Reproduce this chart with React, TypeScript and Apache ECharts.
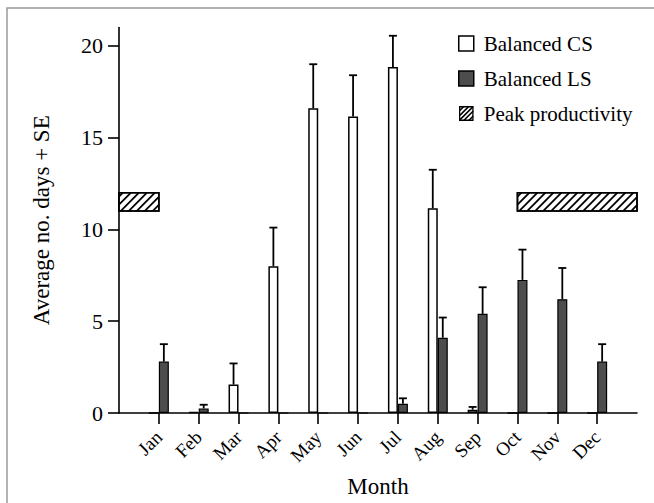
import React, { useEffect, useRef } from 'react';
import * as echarts from 'echarts';

const months = ['Jan', 'Feb', 'Mar', 'Apr', 'May', 'Jun', 'Jul', 'Aug', 'Sep', 'Oct', 'Nov', 'Dec'];
const monthPos = [1, 2, 3, 4, 5, 6, 7, 8, 9, 10, 11, 12];
const csMean = [0, 0.05, 1.55, 8.0, 16.6, 16.15, 18.85, 11.15, 0.18, 0, 0, 0];
const csUpper = [null, null, 2.7, 10.1, 19.0, 18.4, 20.55, 13.25, 0.33, null, null, null];
const lsMean = [2.8, 0.25, 0, 0, 0, 0, 0.5, 4.1, 5.4, 7.25, 6.2, 2.8];
const lsUpper = [3.75, 0.45, null, null, null, null, 0.8, 5.2, 6.85, 8.9, 7.9, 3.75];
const peakStart = [0, 10];
const peakEnd = [1, 13];
const peakLow = [11, 11];
const peakHigh = [12, 12];
const yTicks = [0, 5, 10, 15, 20];

const FONT = 'Liberation Serif, Times New Roman, Times, serif';

const hatchIconSvg =
  "<svg xmlns='http://www.w3.org/2000/svg' width='15' height='15' viewBox='0 0 15 15'>" +
  "<rect x='0.75' y='0.75' width='13.5' height='13.5' fill='white' stroke='black' stroke-width='1.5'/>" +
  "<path d='M0.5 5L5 0.5M0.5 10L10 0.5M0.5 14.5L14.5 0.5M5 14.5L14.5 5M10 14.5L14.5 10' stroke='black' stroke-width='1.6'/>" +
  '</svg>';
const hatchIcon = 'image://data:image/svg+xml;charset=utf-8,' + encodeURIComponent(hatchIconSvg);

function hatch(x0: number, y0: number, x1: number, y1: number, step: number, lw: number) {
  const out: any[] = [];
  for (let c = x0 + y0 + step / 2; c < x1 + y1; c += step) {
    const sx = Math.max(x0, c - y1);
    const ex = Math.min(x1, c - y0);
    if (ex > sx) {
      out.push({
        type: 'line',
        shape: { x1: sx, y1: c - sx, x2: ex, y2: c - ex },
        style: { stroke: '#000', lineWidth: lw },
      });
    }
  }
  return out;
}

function errRender(off: number) {
  return (params: any, api: any) => {
    const x = api.value(0);
    const m = api.value(1);
    const u = api.value(2);
    const p0 = api.coord([x, m]);
    const p1 = api.coord([x, u]);
    const cx = p0[0] + off;
    const st = { stroke: '#000', lineWidth: 1.8 };
    return {
      type: 'group',
      children: [
        { type: 'line', shape: { x1: cx, y1: p0[1], x2: cx, y2: p1[1] }, style: st },
        { type: 'line', shape: { x1: cx - 4, y1: p1[1], x2: cx + 4, y2: p1[1] }, style: st },
      ],
    };
  };
}

export default function App() {
  const ref = useRef<HTMLDivElement>(null);
  useEffect(() => {
    document.body.style.margin = '0';
    if (!ref.current) return;
    const chart = echarts.init(ref.current, null, { renderer: 'svg' });

    const csErr = monthPos
      .map((m, i) => [m, csMean[i], csUpper[i]])
      .filter((d) => d[2] !== null);
    const lsErr = monthPos
      .map((m, i) => [m, lsMean[i], lsUpper[i]])
      .filter((d) => d[2] !== null);
    const peakData = peakStart.map((s, i) => [s, peakEnd[i], peakLow[i], peakHigh[i]]);

    const axisLineStyle = { color: '#000', width: 1.6 };

    chart.setOption({
      animation: false,
      backgroundColor: '#fff',
      textStyle: { fontFamily: FONT },
      grid: { left: 119, top: 27.5, width: 518, height: 388.5 },
      graphic: [
        {
          type: 'rect',
          shape: { x: 7, y: 8, width: 700, height: 600 },
          style: { fill: 'none', stroke: '#999', lineWidth: 1.5 },
          z: 0,
        },
      ],
      legend: {
        orient: 'vertical',
        left: 458,
        top: 33,
        itemWidth: 15,
        itemHeight: 15,
        itemGap: 14,
        padding: 0,
        selectedMode: false,
        textStyle: {
          fontSize: 21,
          fontFamily: FONT,
          color: '#000',
          padding: [0, 0, 0, 5],
        },
        data: [
          { name: 'Balanced CS', icon: 'rect', itemStyle: { color: '#fff', borderColor: '#000', borderWidth: 1.5 } },
          { name: 'Balanced LS', icon: 'rect', itemStyle: { color: '#4d4d4d', borderColor: '#000', borderWidth: 1.5 } },
          { name: 'Peak productivity', icon: hatchIcon },
        ],
      },
      xAxis: {
        type: 'value',
        min: 0,
        max: 13,
        splitLine: { show: false },
        axisLine: { show: true, onZero: true, lineStyle: axisLineStyle },
        axisTick: {
          show: true,
          customValues: monthPos,
          length: 11,
          lineStyle: axisLineStyle,
        },
        axisLabel: {
          show: true,
          customValues: monthPos,
          formatter: (v: number) => months[Math.round(v) - 1] || '',
          rotate: 45,
          fontSize: 19,
          fontFamily: FONT,
          color: '#000',
          margin: 21,
        },
        name: 'Month',
        nameLocation: 'middle',
        nameGap: 62,
        nameTextStyle: { fontSize: 23, fontFamily: FONT, color: '#000' },
      },
      yAxis: {
        type: 'value',
        min: 0,
        max: 21,
        splitLine: { show: false },
        axisLine: { show: true, lineStyle: axisLineStyle },
        axisTick: {
          show: true,
          customValues: yTicks,
          length: 11,
          lineStyle: axisLineStyle,
        },
        axisLabel: {
          show: true,
          customValues: yTicks,
          fontSize: 22,
          fontFamily: FONT,
          color: '#000',
          margin: 16,
        },
        name: 'Average no. days + SE',
        nameLocation: 'middle',
        nameGap: 66,
        nameTextStyle: { fontSize: 23, fontFamily: FONT, color: '#000' },
      },
      series: [
        {
          name: 'Balanced CS',
          type: 'bar',
          data: monthPos.map((m, i) => [m, csMean[i]]),
          barWidth: 10,
          barGap: '0%',
          itemStyle: { color: '#fff', borderColor: '#000', borderWidth: 1.5 },
          z: 2,
        },
        {
          name: 'Balanced LS',
          type: 'bar',
          data: monthPos.map((m, i) => [m, lsMean[i]]),
          barWidth: 10,
          barGap: '0%',
          itemStyle: { color: '#4d4d4d', borderColor: '#000', borderWidth: 1.2 },
          z: 2,
        },
        {
          name: 'CS SE',
          type: 'custom',
          data: csErr,
          encode: { x: 0, y: [1, 2] },
          renderItem: errRender(-5),
          z: 3,
        },
        {
          name: 'LS SE',
          type: 'custom',
          data: lsErr,
          encode: { x: 0, y: [1, 2] },
          renderItem: errRender(5),
          z: 3,
        },
        {
          name: 'Peak productivity',
          type: 'custom',
          data: peakData,
          clip: false,
          itemStyle: { color: '#fff' },
          encode: { x: [0, 1], y: [2, 3] },
          renderItem: (params: any, api: any) => {
            const p0 = api.coord([api.value(0), api.value(3)]);
            const p1 = api.coord([api.value(1), api.value(2)]);
            const x0 = p0[0];
            const y0 = p0[1];
            const x1 = p1[0];
            const y1 = p1[1];
            return {
              type: 'group',
              children: [
                {
                  type: 'rect',
                  shape: { x: x0, y: y0, width: x1 - x0, height: y1 - y0 },
                  style: { fill: '#fff', stroke: '#000', lineWidth: 1.6 },
                },
                ...hatch(x0, y0, x1, y1, 8, 1.8),
                {
                  type: 'rect',
                  shape: { x: x0, y: y0, width: x1 - x0, height: y1 - y0 },
                  style: { fill: 'none', stroke: '#000', lineWidth: 1.6 },
                },
              ],
            };
          },
          z: 4,
        },
      ],
    });
    return () => chart.dispose();
  }, []);
  return <div ref={ref} style={{ width: 654, height: 503 }} />;
}
